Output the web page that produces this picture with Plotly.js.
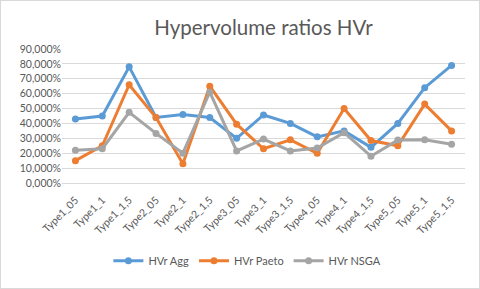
<!DOCTYPE html>
<html><head><meta charset="utf-8">
<script src="https://cdn.plot.ly/plotly-3.0.1.min.js"></script>
<style>html,body{margin:0;padding:0;background:#fff}#wrap{width:478px;height:287px;border:1px solid #D9D9D9}</style>
</head><body><div id="wrap"><div id="chart"></div></div>
<script>
const categories = ["Type1_05","Type1_1","Type1_1,5","Type2_05","Type2_1","Type2_1,5","Type3_05","Type3_1","Type3_1,5","Type4_05","Type4_1","Type4_1,5","Type5_05","Type5_1","Type5_1,5"];
const tickLabels = ["Type1_05","Type1_1","Type1_1,5","Type2_05","Type2_1","Type2_1,5","Type3_05","Type3_1","Type3_1,5","Type4_05","Type4_1","Type4_1,5","Type5_05","Type5_1","Type5_1,5"];
const hvrAgg   = [0.43,0.45,0.78,0.44,0.46,0.44,0.30,0.457,0.40,0.31,0.35,0.24,0.40,0.64,0.79];
const hvrPaeto = [0.15,0.25,0.66,0.44,0.13,0.65,0.395,0.23,0.29,0.20,0.50,0.285,0.25,0.53,0.35];
const hvrNSGA  = [0.22,0.23,0.475,0.333,0.20,0.61,0.215,0.295,0.215,0.235,0.338,0.18,0.288,0.29,0.26];
const names = ["HVr Agg","HVr Paeto","HVr NSGA"];
const colors = ["#5B9BD5","#ED7D31","#A5A5A5"];
const series = [hvrAgg,hvrPaeto,hvrNSGA];
const xIdx = categories.map((c,i)=>i);
const traces = series.map((s,i)=>({
  x: xIdx, y: s, name: names[i], type:'scatter', mode:'lines+markers',
  line:{color:colors[i], width:3}, marker:{color:colors[i], size:7}
}));
const font = "Lato, 'Open Sans', sans-serif";
const layout = {
  width:478, height:287,
  margin:{l:61,r:14,t:48,b:93},
  separators:",.",
  paper_bgcolor:'#fff', plot_bgcolor:'#fff',
  title:{text:"Hypervolume ratios HVr", font:{family:font,size:20.5,color:'#595959'}, x:0.5, xanchor:'center', y:0.908, yanchor:'middle', xref:'paper'},
  showlegend:true,
  legend:{orientation:'h', x:0.46, xanchor:'center', y:-0.58, yanchor:'middle', font:{family:font,size:11,color:'#595959'}, itemwidth:30},
  xaxis:{tickmode:'array', tickvals:xIdx, ticktext:tickLabels, tickangle:-45, range:[-0.5,14.5],
    showgrid:false, zeroline:false, showline:true, linecolor:'#D9D9D9', linewidth:1,
    ticks:'', ticklabelstandoff:6, tickfont:{family:font,size:10.5,color:'#595959'}},
  yaxis:{range:[0,0.9], dtick:0.1, tickformat:'.3%', showgrid:true, gridcolor:'#D9D9D9', gridwidth:1,
    zeroline:false, showline:false, ticks:'', tickfont:{family:font,size:10.5,color:'#595959'}}
};
Plotly.newPlot('chart', traces, layout, {displayModeBar:false, staticPlot:true});
</script></body></html>
